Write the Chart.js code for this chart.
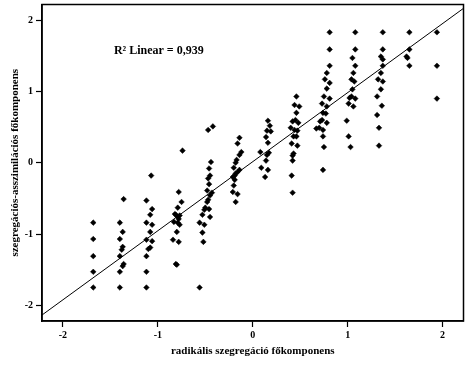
<!DOCTYPE html>
<html>
<head>
<meta charset="utf-8">
<script src="https://cdn.jsdelivr.net/npm/chart.js@4/dist/chart.umd.min.js"></script>
<style>
  html, body { margin: 0; padding: 0; background: #fff; }
  #wrap { width: 468px; height: 378px; }
</style>
</head>
<body>
<div id="wrap"><canvas id="scatter"></canvas></div>
<script>
// scatter values
const pointsX = [
    -1.68, -1.68, -1.68, -1.68, -1.68,
    -1.40, -1.37, -1.40, -1.37, -1.38, -1.40, -1.36, -1.37, -1.40, -1.40, -1.36,
    -1.07, -1.12, -1.06, -1.08, -1.12, -1.06, -1.08, -1.12, -1.06, -1.08, -1.10, -1.12, -1.12, -1.12,
    -0.74, -0.78, -0.75, -0.79, -0.81, -0.77, -0.79, -0.83, -0.79, -0.77, -0.80, -0.84, -0.78, -0.80, -0.81, -0.78, -0.82,
    -0.47, -0.42, -0.44, -0.46, -0.45, -0.47, -0.46, -0.48, -0.43, -0.45, -0.47, -0.48, -0.50, -0.46, -0.51, -0.53, -0.45, -0.56, -0.51, -0.53, -0.52, -0.56,
    -0.14, -0.16, -0.12, -0.14, -0.17, -0.18, -0.20, -0.14, -0.16, -0.18, -0.19, -0.21, -0.19, -0.20, -0.21, -0.16, -0.18,
    0.16, 0.18, 0.15, 0.19, 0.14, 0.16, 0.08, 0.17, 0.15, 0.14, 0.09, 0.16, 0.13,
    0.46, 0.44, 0.49, 0.46, 0.45, 0.42, 0.48, 0.40, 0.44, 0.47, 0.43, 0.46, 0.41, 0.47, 0.43, 0.42, 0.42, 0.41, 0.42,
    0.81, 0.81, 0.81, 0.78, 0.76, 0.81, 0.78, 0.75, 0.81, 0.73, 0.78, 0.74, 0.77, 0.73, 0.78, 0.71, 0.67, 0.70, 0.74, 0.74, 0.75, 0.74,
    1.08, 1.08, 1.05, 1.08, 1.06, 1.04, 1.07, 1.05, 1.04, 1.02, 1.08, 1.01, 1.06, 0.99, 1.01, 1.03,
    1.37, 1.37, 1.35, 1.37, 1.37, 1.35, 1.32, 1.37, 1.35, 1.31, 1.36, 1.31, 1.33, 1.33,
    1.65, 1.65, 1.62, 1.63, 1.65,
    1.94, 1.94, 1.94
];
const pointsY = [
    -0.84, -1.07, -1.31, -1.53, -1.75,
    -0.84, -0.97, -1.07, -1.18, -1.22, -1.31, -1.42, -1.45, -1.53, -1.75, -0.51,
    -0.18, -0.53, -0.65, -0.73, -0.84, -0.87, -0.97, -1.08, -1.10, -1.19, -1.21, -1.31, -1.53, -1.75,
    0.17, -0.41, -0.55, -0.63, -0.73, -0.74, -0.76, -0.83, -0.84, -0.87, -0.97, -1.08, -1.11, -1.43, -1.42, -0.79, -0.72,
    0.46, 0.51, 0.01, -0.08, -0.18, -0.22, -0.30, -0.39, -0.42, -0.46, -0.52, -0.55, -0.63, -0.65, -0.66, -0.73, -0.76, -0.84, -0.87, -0.98, -1.11, -1.75,
    0.35, 0.27, 0.15, 0.11, 0.04, 0.00, -0.07, -0.10, -0.13, -0.15, -0.18, -0.20, -0.24, -0.32, -0.41, -0.44, -0.55,
    0.59, 0.52, 0.45, 0.44, 0.36, 0.28, 0.15, 0.14, 0.11, 0.03, -0.07, -0.10, -0.20,
    0.93, 0.81, 0.79, 0.70, 0.60, 0.58, 0.56, 0.49, 0.46, 0.45, 0.37, 0.37, 0.27, 0.24, 0.13, 0.10, 0.03, -0.18, -0.42,
    1.83, 1.59, 1.36, 1.26, 1.17, 1.12, 1.04, 0.93, 0.90, 0.83, 0.79, 0.70, 0.69, 0.60, 0.56, 0.58, 0.48, 0.49, 0.46, 0.37, 0.22, -0.10,
    1.83, 1.59, 1.47, 1.36, 1.26, 1.17, 1.14, 1.03, 0.93, 0.91, 0.90, 0.83, 0.79, 0.59, 0.37, 0.22,
    1.83, 1.59, 1.49, 1.45, 1.36, 1.26, 1.17, 1.14, 1.03, 0.93, 0.80, 0.67, 0.49, 0.24,
    1.83, 1.59, 1.49, 1.47, 1.36,
    1.83, 1.36, 0.90
];

// linear fit
const fitSlope = 0.969;
const fitIntercept = 0.015;
const axisRange = [-2.22, 2.22];
const tickValues = [-2, -1, 0, 1, 2];
const fitLabel = 'R\u00B2 Linear = 0,939';
const fitLabelAt = [-0.99, 1.57];

const xTitle = 'radikális szegregáció főkomponens';
const yTitle = 'szegregációs-asszimilációs főkomponens';

const scatterData = pointsX.map((x, i) => ({ x, y: pointsY[i] }));
const fitData = axisRange.map(x => ({ x, y: fitSlope * x + fitIntercept }));

const serif = '"Liberation Serif", "DejaVu Serif", serif';

// frame round the plot + the R² note
const framePlugin = {
    id: 'frame',
    afterDraw(chart) {
        const { ctx, chartArea: a, scales } = chart;
        ctx.save();
        ctx.strokeStyle = '#000';
        ctx.lineWidth = 1.5;
        ctx.strokeRect(a.left, a.top, a.right - a.left, a.bottom - a.top);

        const px = scales.x.getPixelForValue(fitLabelAt[0]);
        const py = scales.y.getPixelForValue(fitLabelAt[1]);
        ctx.fillStyle = '#000';
        ctx.font = 'bold 12px ' + serif;
        ctx.textAlign = 'center';
        ctx.textBaseline = 'middle';
        ctx.fillText(fitLabel, px, py);
        ctx.restore();
    }
};

function axis(title, isY) {
    return {
        type: 'linear',
        min: axisRange[0],
        max: axisRange[1],
        afterBuildTicks(scale) {
            scale.ticks = tickValues.map(v => ({ value: v }));
        },
        afterFit(scale) {
            // end labels sit well inside the range, no extra room needed
            if (isY) {
                scale.width = 42;
                scale.paddingTop = 0;
                scale.paddingBottom = 0;
            } else {
                scale.height = 57;
                scale.paddingLeft = 0;
                scale.paddingRight = 0;
            }
        },
        grid: {
            drawOnChartArea: false,
            drawTicks: true,
            tickLength: 6,
            tickWidth: 1.2,
            tickColor: '#000'
        },
        border: { display: true, color: '#000', width: 1.5 },
        ticks: {
            color: '#000',
            padding: isY ? 3 : 2,
            font: { family: serif, size: 10, weight: 'bold' },
            callback: v => String(v)
        },
        title: {
            display: true,
            text: title,
            color: '#000',
            font: { family: serif, size: 11, weight: 'bold' },
            padding: isY ? { top: 9, bottom: 0 } : { top: 0, bottom: 20 }
        }
    };
}

new Chart(document.getElementById('scatter'), {
    type: 'scatter',
    data: {
        datasets: [
            {
                label: 'fit',
                type: 'line',
                data: fitData,
                borderColor: '#000',
                borderWidth: 1,
                pointRadius: 0,
                fill: false,
                order: 1
            },
            {
                label: 'points',
                data: scatterData,
                pointStyle: 'rectRot',
                pointRadius: 2.8,
                backgroundColor: '#000',
                borderColor: '#000',
                borderWidth: 0.5,
                order: 0
            }
        ]
    },
    options: {
        responsive: true,
        maintainAspectRatio: false,
        animation: false,
        layout: { padding: { left: 0, top: 4, right: 4, bottom: 0 } },
        plugins: {
            legend: { display: false },
            tooltip: { enabled: false }
        },
        scales: {
            x: axis(xTitle, false),
            y: axis(yTitle, true)
        }
    },
    plugins: [framePlugin]
});
</script>
</body>
</html>
